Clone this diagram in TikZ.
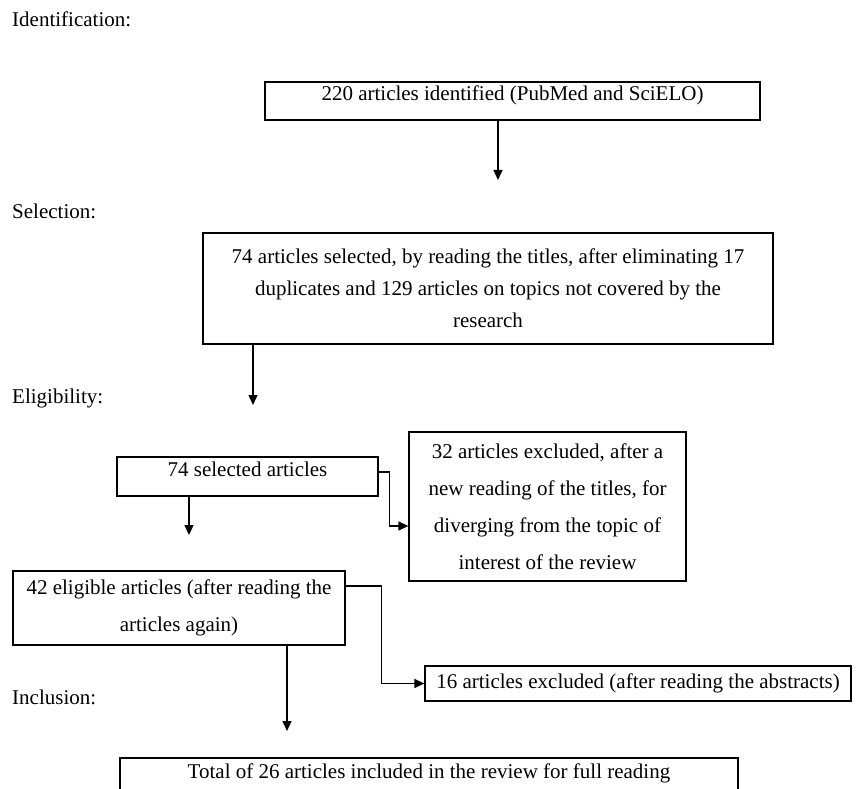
\documentclass[tikz,border=0pt]{standalone}
\usepackage{fontspec}
\setmainfont{Liberation Serif}
\usetikzlibrary{arrows.meta,positioning}
\tikzstyle{stage} = [anchor=base west, inner sep=0pt]
\tikzstyle{process} = [rectangle, draw=black, line width=1.3pt, align=center, inner sep=0pt]
\tikzstyle{oneline} = [text height=14pt, text depth=15pt]
\tikzstyle{arrow} = [line width=1.3pt, -{Triangle[length=10pt,width=9pt]}]

\begin{document}
\begin{tikzpicture}[x=1pt,y=-1pt,font=\fontsize{21}{32}\selectfont]
\useasboundingbox (0,0) rectangle (857,789);

% Stage labels
\node[stage] (ident) at (12,27) {Identification:};
\node[stage] (select) at (12,218) {Selection:};
\node[stage] (elig) at (12,403) {Eligibility:};
\node[stage] (incl) at (12,704) {Inclusion:};

% Boxes
\node[process, oneline, minimum width=495, minimum height=38] (found) at (512.5,101) {220 articles identified (PubMed and SciELO)};
\node[process, minimum width=570, minimum height=111] (titles) at (488,288.5) {74 articles selected, by reading the titles, after eliminating 17\\duplicates and 129 articles on topics not covered by the\\research};
\node[process, oneline, minimum width=261, minimum height=39] (sel) at (247.5,476.5) {74 selected articles};
\node[process, minimum width=277, minimum height=149, font=\fontsize{21}{37}\selectfont] (excl) at (547.5,506.5) {32 articles excluded, after a\\new reading of the titles, for\\diverging from the topic of\\interest of the review};
\node[process, minimum width=332, minimum height=74, font=\fontsize{21}{37}\selectfont] (elig5) at (179,608) {42 eligible articles (after reading the\\articles again)};
\node[process, minimum width=426, minimum height=35] (abs) at (638,683.5) {16 articles excluded (after reading the abstracts)};
\node[process, oneline, minimum width=618, minimum height=42] (total) at (429,779) {Total of 26 articles included in the review for full reading};

% Arrows
\coordinate (t1) at (498,180);
\coordinate (t2) at (253,405);
\coordinate (t3) at (189,535);
\coordinate (t5) at (287,731);
\draw[arrow] (found.south -| t1) -- (t1);
\draw[arrow] (titles.south -| t2) -- (t2);
\draw[arrow] (sel.south -| t3) -- (t3);
\draw[arrow] (elig5.south -| t5) -- (t5);
\draw[arrow] ([yshift=4.5pt]sel.east) -- ++(11,0) |- ([yshift=-19.5pt]excl.west);
\draw[arrow] ([yshift=22pt]elig5.east) -- ++(36,0) |- (abs.west);
\end{tikzpicture}
\end{document}
